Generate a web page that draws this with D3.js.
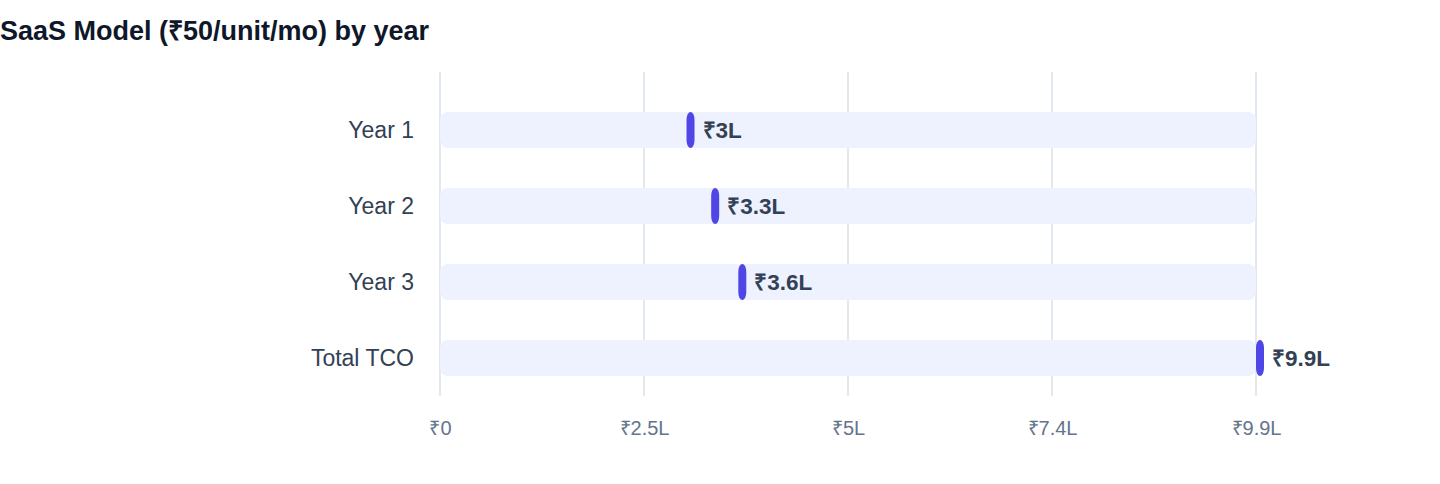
<!DOCTYPE html>
<html>
<head>
<meta charset="utf-8">
<script src="https://cdn.jsdelivr.net/npm/d3@7"></script>
<style>
  body { margin: 0; background: #fff; font-family: "Liberation Sans", Arial, Helvetica, sans-serif; }
</style>
</head>
<body>
<svg width="1440" height="484"></svg>
<script>
const categories = ["Year 1", "Year 2", "Year 3", "Total TCO"];
const values = [300000, 330000, 363000, 993000];
const tickFractions = [0, 0.25, 0.5, 0.75, 1];

const svg = d3.select('svg');
const margin = {"top": 92, "left": 440, "right": 184, "bottom": 88};
const width = +svg.attr('width');
const height = +svg.attr('height');

const fmt = v => v === 0 ? "₹0" : "₹" + (+(v / 1e5).toFixed(1)) + "L";

const maxV = d3.max(values);
const xScale = d3.scaleLinear()
    .domain([0, maxV])
    .range([margin.left, width - margin.right]);

const yScale = d3.scaleBand()
    .domain(categories)
    .range([margin.top, height - margin.bottom])
    .padding(0);

const barH = 36;

svg.append('text')
    .attr('x', 0)
    .attr('y', 40)
    .attr('font-size', 27)
    .attr('font-weight', 'bold')
    .attr('fill', '#0f172a')
    .text('SaaS Model (₹50/unit/mo) by year');

// grid lines
const tickVals = tickFractions.map(f => f * maxV);
svg.append('g').selectAll('line')
    .data(tickVals)
    .enter().append('line')
        .attr('x1', d => xScale(d))
        .attr('x2', d => xScale(d))
        .attr('y1', 72)
        .attr('y2', height - margin.bottom)
        .attr('stroke', '#e2e8f0')
        .attr('stroke-width', 2);

// x axis
const xAxis = svg.append('g')
    .attr('transform', `translate(0, ${height - margin.bottom + 22})`)
    .call(d3.axisBottom(xScale).tickValues(tickVals).tickFormat(fmt).tickSize(0));
xAxis.select('.domain').remove();
xAxis.selectAll('text')
    .attr('font-family', '"Liberation Sans", Arial, sans-serif')
    .attr('font-size', 20)
    .attr('fill', '#64748b');

// y labels
svg.append('g').selectAll('text')
    .data(categories)
    .enter().append('text')
        .attr('x', margin.left - 26)
        .attr('y', d => yScale(d) + yScale.bandwidth() / 2)
        .attr('dy', '0.35em')
        .attr('text-anchor', 'end')
        .attr('font-size', 23)
        .attr('fill', '#334155')
        .text(d => d);

const rows = categories.map((c, i) => ({"cat": c, "value": values[i]}));

// background tracks
svg.append('g').selectAll('rect')
    .data(rows)
    .enter().append('rect')
        .attr('x', xScale(0))
        .attr('y', d => yScale(d.cat) + (yScale.bandwidth() - barH) / 2)
        .attr('width', xScale(maxV) - xScale(0))
        .attr('height', barH)
        .attr('rx', 8)
        .attr('fill', '#eef2ff');

// markers
svg.append('g').selectAll('rect')
    .data(rows)
    .enter().append('rect')
        .attr('x', d => xScale(d.value))
        .attr('y', d => yScale(d.cat) + (yScale.bandwidth() - barH) / 2)
        .attr('width', 8)
        .attr('height', barH)
        .attr('rx', 4)
        .attr('ry', 8)
        .attr('fill', '#4f46e5');

// value labels
svg.append('g').selectAll('text')
    .data(rows)
    .enter().append('text')
        .attr('x', d => xScale(d.value) + 16)
        .attr('y', d => yScale(d.cat) + yScale.bandwidth() / 2)
        .attr('dy', '0.35em')
        .attr('font-size', 22.5)
        .attr('font-weight', 'bold')
        .attr('fill', '#334155')
        .text(d => fmt(d.value));
</script>
</body>
</html>
